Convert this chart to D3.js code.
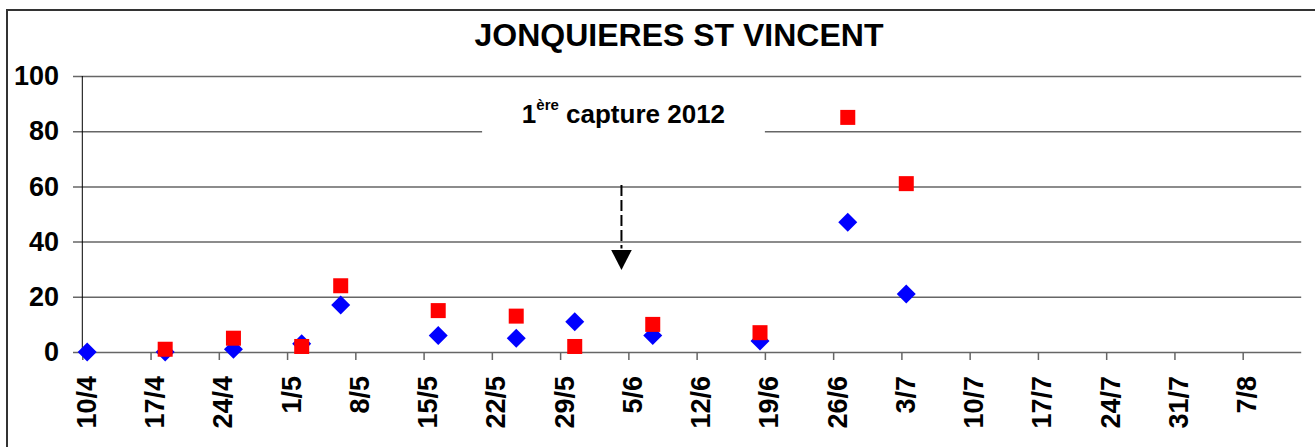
<!DOCTYPE html>
<html>
<head>
<meta charset="utf-8">
<script src="https://cdn.jsdelivr.net/npm/d3@7"></script>
<style>
  body { margin: 0; background: #fff; }
  svg { display: block; font-family: Arial, "Liberation Sans", sans-serif; font-weight: bold; }
</style>
</head>
<body>
<svg id="chart" width="1315" height="447"></svg>
<script>
  'use strict';

  var title = 'JONQUIERES ST VINCENT';

  // sampling dates (day/month, 2012)
  var dates = ['10/4', '18/4', '25/4', '2/5', '6/5', '16/5', '24/5', '30/5', '7/6', '18/6', '27/6', '3/7'];
  var blueValues = [0, 0, 1, 3, 17, 6, 5, 11, 6, 4, 47, 21];
  var redValues = [null, 1, 5, 2, 24, 15, 13, 2, 10, 7, 85, 61];

  var tickLabels = ['10/4', '17/4', '24/4', '1/5', '8/5', '15/5', '22/5', '29/5', '5/6', '12/6',
    '19/6', '26/6', '3/7', '10/7', '17/7', '24/7', '31/7', '7/8'];
  var yTicks = [0, 20, 40, 60, 80, 100];

  var parse = function(s) {
    return d3.utcParse('%d/%m/%Y')(s + '/2012');
  };

  var svg = d3.select('#chart');

  var x = d3.scaleUtc()
    .domain([parse('10/4'), parse('13/8')])
    .range([82.3, 1301.2]);

  var y = d3.scaleLinear()
    .domain([0, 100])
    .range([352, 76]);

  var dayWidth = x(parse('11/4')) - x(parse('10/4'));
  // points sit in the middle of their day
  var px = function(d) {
    return x(parse(d)) + dayWidth / 2;
  };

  // chart frame
  svg.append('rect')
    .attr('x', 7)
    .attr('y', 10)
    .attr('width', 1400)
    .attr('height', 500)
    .attr('fill', '#fff')
    .attr('stroke', '#333')
    .attr('stroke-width', 2);

  svg.append('text')
    .attr('x', 679)
    .attr('y', 46)
    .attr('text-anchor', 'middle')
    .style('font-size', '32px')
    .text(title);

  // gridlines + y labels
  var yAxis = svg.append('g')
    .attr('transform', 'translate(73,0)')
    .call(d3.axisLeft(y)
      .tickValues(yTicks)
      .tickSize(-(1301.2 - 73))
      .tickPadding(14));

  yAxis.select('.domain').remove();
  yAxis.selectAll('line')
    .attr('stroke', '#666')
    .attr('stroke-width', 1.5);
  yAxis.selectAll('text')
    .attr('fill', '#000')
    .style('font-size', '27px')
    .style('font-family', 'Arial, "Liberation Sans", sans-serif')
    .style('font-weight', 'bold');

  // x axis
  var xAxis = svg.append('g')
    .attr('transform', 'translate(0,352)')
    .call(d3.axisBottom(x)
      .tickValues(tickLabels.map(parse))
      .tickSize(8)
      .tickFormat(d3.utcFormat('%-d/%-m')));

  xAxis.select('.domain').remove();
  xAxis.selectAll('line')
    .attr('stroke', '#666')
    .attr('stroke-width', 1.5);
  xAxis.selectAll('text')
    .attr('fill', '#000')
    .attr('transform', 'rotate(-90)')
    .attr('text-anchor', 'end')
    .attr('x', -24)
    .attr('y', 3.5)
    .attr('dy', '0.35em')
    .style('font-size', '27px')
    .style('font-family', 'Arial, "Liberation Sans", sans-serif')
    .style('font-weight', 'bold');

  // y axis line
  svg.append('line')
    .attr('x1', x(parse('10/4')))
    .attr('x2', x(parse('10/4')))
    .attr('y1', y(100))
    .attr('y2', y(0))
    .attr('stroke', '#000')
    .attr('stroke-width', 1);

  // annotation: white box hiding the gridline, text, dashed arrow
  var noteDate = d3.utcHour.offset(parse('4/6'), 7);

  svg.append('rect')
    .attr('x', x(parse('21/5')))
    .attr('y', y(93))
    .attr('width', x(parse('19/6')) - x(parse('21/5')))
    .attr('height', y(75) - y(93))
    .attr('fill', '#fff');

  var note = svg.append('text')
    .attr('x', x(noteDate) + 2)
    .attr('y', y(82.9))
    .attr('text-anchor', 'middle')
    .style('font-size', '26px');
  note.append('tspan').text('1');
  note.append('tspan')
    .attr('dy', -13)
    .style('font-size', '15px')
    .text('ère');
  note.append('tspan')
    .attr('dy', 13)
    .text(' capture 2012');

  svg.append('line')
    .attr('x1', x(noteDate))
    .attr('x2', x(noteDate))
    .attr('y1', y(60.5))
    .attr('y2', y(37.5))
    .attr('stroke', '#000')
    .attr('stroke-width', 2)
    .attr('stroke-dasharray', '11,4');

  var ax = x(noteDate);
  var headTop = y(37);
  var headTip = y(29.7);
  svg.append('path')
    .attr('d', 'M' + (ax - 10.3) + ',' + headTop + 'L' + (ax + 10.3) + ',' + headTop + 'L' + ax + ',' + headTip + 'Z')
    .attr('fill', '#000');

  // blue diamonds
  svg.append('g')
    .selectAll('path')
    .data(dates.map(function(d, i) { return { date: d, value: blueValues[i] }; })
      .filter(function(d) { return d.value !== null; }))
    .enter()
    .append('path')
    .attr('transform', function(d) {
      return 'translate(' + px(d.date) + ',' + y(d.value) + ')';
    })
    .attr('d', 'M0,-9.5L9.5,0L0,9.5L-9.5,0Z')
    .attr('fill', '#0000ff');

  // red squares
  svg.append('g')
    .selectAll('rect')
    .data(dates.map(function(d, i) { return { date: d, value: redValues[i] }; })
      .filter(function(d) { return d.value !== null; }))
    .enter()
    .append('rect')
    .attr('x', function(d) { return px(d.date) - 7.5; })
    .attr('y', function(d) { return y(d.value) - 7.5; })
    .attr('width', 15)
    .attr('height', 15)
    .attr('fill', '#ff0000');
</script>
</body>
</html>
